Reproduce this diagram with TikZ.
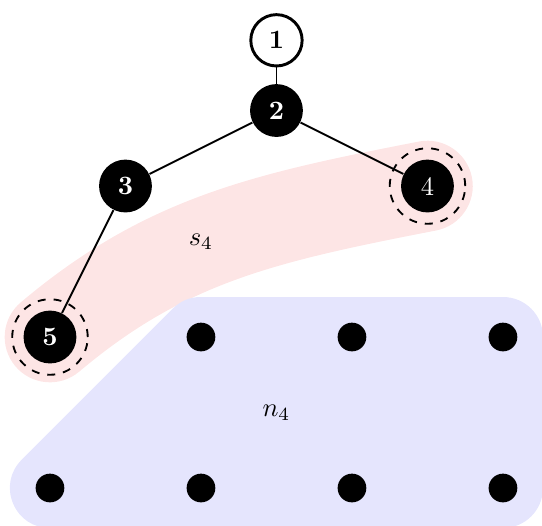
\documentclass[tikz,border=0pt]{standalone}
\usetikzlibrary{calc}
\definecolor{bandpink}{RGB}{253,229,229}
\definecolor{hullblue}{RGB}{229,229,253}
\tikzset{
  vtx/.style={circle, fill=black, text=white, minimum size=0.7cm, inner sep=0pt, font=\bfseries},
  rootvtx/.style={circle, draw=black, line width=1.1pt, fill=white, minimum size=0.68cm, inner sep=0pt, font=\bfseries},
  dot/.style={circle, fill=black, minimum size=0.38cm, inner sep=0pt},
  ring/.style={circle, draw=black, dashed, line width=0.7pt, minimum size=1cm, inner sep=0pt},
  edge/.style={line width=0.7pt},
}
\begin{document}
\begin{tikzpicture}
\useasboundingbox (-0.662,-0.49) rectangle (6.517,6.464);
% pink band s4
\coordinate (b0) at (0,2);
\coordinate (b1) at (5,4);
\draw[bandpink, line width=1.2cm, line cap=round] (b0) .. controls (1.53,3.29) and (2.84,3.58) .. (b1);
% blue hull n4
\filldraw[hullblue, line width=1.06cm, line join=round] (2,2) -- (6,2) -- (6,0) -- (0,0) -- cycle;
% labels
\node (s4) at (2,3.26) {$s_4$};
\node (n4) at (3,1) {$n_4$};
% dots
\node[dot] (d1) at (2,2) {};
\node[dot] (d2) at (4,2) {};
\node[dot] (d3) at (6,2) {};
\node[dot] (d4) at (0,0) {};
\node[dot] (d5) at (2,0) {};
\node[dot] (d6) at (4,0) {};
\node[dot] (d7) at (6,0) {};
% rings
\node[ring] (r4) at (5,4) {};
\node[ring] (r5) at (0,2) {};
% tree nodes
\node[rootvtx] (n1) at (3,5.93) {1};
\node[vtx] (n2) at (3,5) {2};
\node[vtx] (n3) at (1,4) {3};
\node[vtx, font=\normalfont] (n4v) at (5,4) {4};
\node[vtx] (n5) at (0,2) {5};
\draw[edge] (n1) -- (n2);
\draw[edge] (n2) -- (n3);
\draw[edge] (n2) -- (n4v);
\draw[edge] (n3) -- (n5);
\end{tikzpicture}
\end{document}
